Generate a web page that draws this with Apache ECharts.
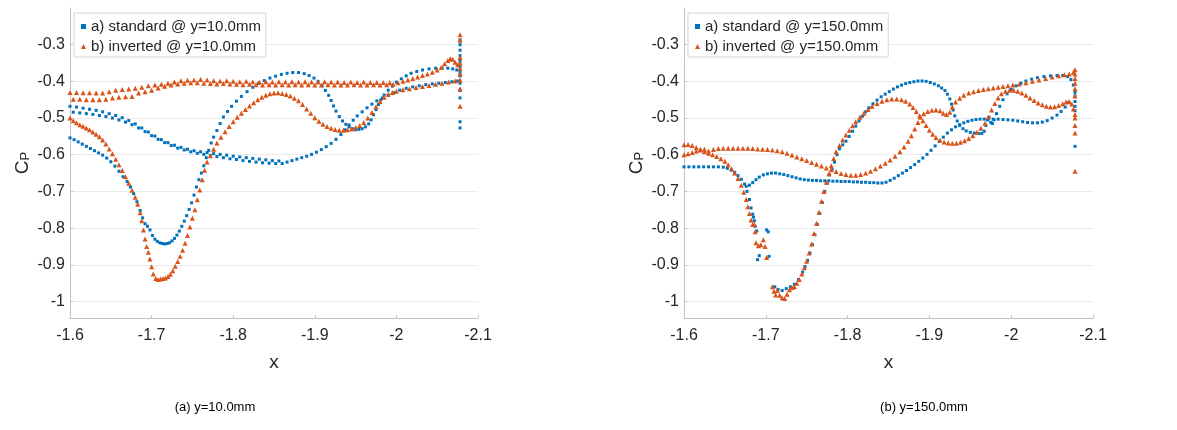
<!DOCTYPE html>
<html>
<head>
<meta charset="utf-8">
<script src="https://cdn.jsdelivr.net/npm/echarts@6/dist/echarts.min.js"></script>
<style>
html,body{margin:0;padding:0;background:#fff;}
#chart{width:1177px;height:430px;}
</style>
</head>
<body>
<div id="chart"></div>
<script>
// ---------- tick labels ----------
const Y_TICKS = [-1, -0.9, -0.8, -0.7, -0.6, -0.5, -0.4, -0.3];
const CAPTIONS = ['(a) y=10.0mm', '(b) y=150.0mm'];
const NAMES_A = ['a) standard @ y=10.0mm', 'b) inverted @ y=10.0mm'];
const NAMES_B = ['a) standard @ y=150.0mm', 'b) inverted @ y=150.0mm'];

// ---------- (a) y=10.0mm : standard ----------
const A_STD_DIP = [[-1.600,-0.554],[-1.605,-0.559],[-1.610,-0.565],[-1.615,-0.571],[-1.620,-0.577],[-1.625,-0.583],[-1.630,-0.589],[-1.635,-0.595],[-1.640,-0.601],[-1.645,-0.609],[-1.650,-0.619],[-1.655,-0.631],[-1.660,-0.645],[-1.665,-0.660],[-1.670,-0.673],[-1.674,-0.688],[-1.678,-0.706],[-1.682,-0.728],[-1.686,-0.752],[-1.689,-0.772],[-1.692,-0.788],[-1.695,-0.795],[-1.698,-0.805],[-1.701,-0.820],[-1.704,-0.830],[-1.707,-0.836],[-1.710,-0.840],[-1.713,-0.842],[-1.716,-0.843],[-1.719,-0.842],[-1.722,-0.840],[-1.725,-0.835],[-1.728,-0.828],[-1.731,-0.819],[-1.734,-0.808],[-1.737,-0.795],[-1.740,-0.781],[-1.743,-0.766],[-1.746,-0.749],[-1.749,-0.731],[-1.752,-0.710],[-1.755,-0.688],[-1.758,-0.668],[-1.761,-0.650],[-1.764,-0.630],[-1.767,-0.608],[-1.770,-0.588],[-1.773,-0.568],[-1.776,-0.552],[-1.780,-0.534],[-1.784,-0.515],[-1.788,-0.497],[-1.793,-0.482],[-1.798,-0.468],[-1.804,-0.454],[-1.810,-0.441],[-1.817,-0.428],[-1.824,-0.416],[-1.831,-0.406],[-1.838,-0.398],[-1.845,-0.391],[-1.852,-0.386],[-1.859,-0.381],[-1.866,-0.378],[-1.873,-0.376],[-1.880,-0.376],[-1.887,-0.379],[-1.893,-0.384],[-1.899,-0.391],[-1.904,-0.400],[-1.909,-0.412],[-1.913,-0.425],[-1.917,-0.438],[-1.920,-0.452],[-1.923,-0.467],[-1.926,-0.481],[-1.930,-0.496],[-1.934,-0.508],[-1.938,-0.517],[-1.942,-0.524],[-1.946,-0.529],[-1.950,-0.532],[-1.954,-0.531],[-1.958,-0.529],[-1.962,-0.524],[-1.966,-0.516],[-1.969,-0.505],[-1.972,-0.491],[-1.975,-0.477],[-1.978,-0.463],[-1.981,-0.450],[-1.985,-0.437],[-1.990,-0.424],[-1.995,-0.413],[-2.000,-0.402],[-2.006,-0.393],[-2.012,-0.385],[-2.018,-0.378],[-2.025,-0.373],[-2.032,-0.369],[-2.040,-0.366],[-2.048,-0.364],[-2.056,-0.364],[-2.063,-0.364],[-2.069,-0.366],[-2.074,-0.369],[-2.078,-0.376]];
const A_STD_LOW_1 = [[-1.600,-0.468],[-1.608,-0.470],[-1.616,-0.473],[-1.624,-0.476],[-1.632,-0.479],[-1.640,-0.483],[-1.648,-0.488],[-1.656,-0.493],[-1.664,-0.499],[-1.672,-0.507],[-1.680,-0.516],[-1.688,-0.527],[-1.696,-0.538],[-1.704,-0.549],[-1.712,-0.559],[-1.720,-0.567],[-1.728,-0.574],[-1.736,-0.580],[-1.744,-0.585],[-1.752,-0.589],[-1.760,-0.592],[-1.768,-0.594],[-1.776,-0.597],[-1.784,-0.599],[-1.792,-0.601],[-1.800,-0.604],[-1.808,-0.606],[-1.816,-0.608],[-1.824,-0.610],[-1.832,-0.612],[-1.840,-0.614],[-1.848,-0.616],[-1.856,-0.617]];
const A_STD_LOW_2 = [[-1.604,-0.484],[-1.612,-0.486],[-1.620,-0.488],[-1.628,-0.490],[-1.636,-0.493],[-1.644,-0.496],[-1.652,-0.500],[-1.660,-0.505],[-1.668,-0.511],[-1.676,-0.518],[-1.684,-0.527],[-1.692,-0.537],[-1.700,-0.548],[-1.708,-0.558],[-1.716,-0.567],[-1.724,-0.575],[-1.732,-0.582],[-1.740,-0.587],[-1.748,-0.592],[-1.756,-0.596],[-1.764,-0.599],[-1.772,-0.602],[-1.780,-0.605],[-1.788,-0.608],[-1.796,-0.611],[-1.804,-0.613],[-1.812,-0.616],[-1.820,-0.618],[-1.828,-0.620],[-1.836,-0.622],[-1.844,-0.623],[-1.852,-0.624],[-1.860,-0.624]];
const A_STD_LOW_3 = [[-1.866,-0.620],[-1.872,-0.616],[-1.878,-0.612],[-1.884,-0.608],[-1.890,-0.604],[-1.896,-0.599],[-1.902,-0.593],[-1.908,-0.586],[-1.914,-0.578],[-1.920,-0.569],[-1.926,-0.558],[-1.932,-0.545],[-1.937,-0.532],[-1.942,-0.519],[-1.947,-0.506],[-1.952,-0.494],[-1.958,-0.483],[-1.964,-0.472],[-1.970,-0.462],[-1.976,-0.453],[-1.983,-0.445],[-1.990,-0.438],[-1.997,-0.431],[-2.004,-0.424],[-2.012,-0.419],[-2.020,-0.415],[-2.028,-0.412],[-2.036,-0.409],[-2.044,-0.407],[-2.052,-0.405],[-2.060,-0.403],[-2.068,-0.401],[-2.075,-0.399]];
const A_STD_TE = [[-2.078,-0.287],[-2.078,-0.300],[-2.078,-0.315],[-2.078,-0.330],[-2.078,-0.345],[-2.078,-0.360],[-2.078,-0.385],[-2.078,-0.405],[-2.078,-0.425],[-2.078,-0.445],[-2.078,-0.510],[-2.078,-0.527]];

// ---------- (a) y=10.0mm : inverted ----------
const A_INV_DIP = [[-1.600,-0.500],[-1.604,-0.507],[-1.608,-0.513],[-1.612,-0.518],[-1.616,-0.522],[-1.620,-0.527],[-1.624,-0.532],[-1.628,-0.538],[-1.632,-0.544],[-1.636,-0.551],[-1.640,-0.560],[-1.644,-0.571],[-1.648,-0.584],[-1.652,-0.597],[-1.656,-0.612],[-1.660,-0.627],[-1.664,-0.643],[-1.668,-0.660],[-1.672,-0.678],[-1.676,-0.697],[-1.680,-0.716],[-1.683,-0.735],[-1.686,-0.758],[-1.688,-0.780],[-1.690,-0.805],[-1.692,-0.830],[-1.694,-0.850],[-1.696,-0.866],[-1.698,-0.884],[-1.700,-0.905],[-1.702,-0.925],[-1.705,-0.937],[-1.708,-0.940],[-1.711,-0.939],[-1.714,-0.937],[-1.717,-0.936],[-1.720,-0.932],[-1.723,-0.926],[-1.726,-0.916],[-1.729,-0.904],[-1.732,-0.891],[-1.735,-0.877],[-1.738,-0.860],[-1.741,-0.841],[-1.744,-0.820],[-1.747,-0.797],[-1.750,-0.773],[-1.753,-0.750],[-1.756,-0.723],[-1.759,-0.696],[-1.762,-0.668],[-1.765,-0.642],[-1.768,-0.620],[-1.772,-0.603],[-1.776,-0.585],[-1.780,-0.568],[-1.785,-0.552],[-1.790,-0.537],[-1.795,-0.523],[-1.800,-0.510],[-1.805,-0.498],[-1.810,-0.487],[-1.815,-0.477],[-1.820,-0.467],[-1.825,-0.458],[-1.830,-0.450],[-1.835,-0.443],[-1.840,-0.438],[-1.845,-0.434],[-1.850,-0.432],[-1.855,-0.431],[-1.860,-0.433],[-1.865,-0.436],[-1.870,-0.440],[-1.875,-0.446],[-1.880,-0.453],[-1.885,-0.463],[-1.890,-0.475],[-1.895,-0.487],[-1.900,-0.499],[-1.905,-0.509],[-1.910,-0.517],[-1.915,-0.523],[-1.920,-0.528],[-1.925,-0.531],[-1.930,-0.533],[-1.935,-0.533],[-1.940,-0.532],[-1.945,-0.530],[-1.950,-0.526],[-1.955,-0.520],[-1.960,-0.512],[-1.965,-0.500],[-1.970,-0.485],[-1.975,-0.469],[-1.980,-0.455],[-1.985,-0.443],[-1.990,-0.435],[-1.995,-0.430],[-2.000,-0.427],[-2.008,-0.423],[-2.016,-0.420],[-2.024,-0.417],[-2.032,-0.414],[-2.040,-0.411],[-2.048,-0.408],[-2.056,-0.405],[-2.064,-0.402],[-2.072,-0.399],[-2.078,-0.396]];
const A_INV_FLAT_1 = [[-1.600,-0.430],[-1.608,-0.430],[-1.616,-0.431],[-1.624,-0.431],[-1.632,-0.432],[-1.640,-0.432],[-1.648,-0.428],[-1.656,-0.424],[-1.664,-0.422],[-1.672,-0.421],[-1.680,-0.419],[-1.688,-0.416],[-1.696,-0.412],[-1.704,-0.410],[-1.712,-0.408],[-1.720,-0.405],[-1.728,-0.402],[-1.736,-0.398],[-1.744,-0.397],[-1.752,-0.396],[-1.760,-0.395],[-1.768,-0.396],[-1.776,-0.398],[-1.784,-0.399],[-1.792,-0.398],[-1.800,-0.400],[-1.808,-0.401],[-1.816,-0.400],[-1.824,-0.401],[-1.832,-0.402],[-1.840,-0.401],[-1.848,-0.402],[-1.856,-0.401],[-1.864,-0.402],[-1.872,-0.401],[-1.880,-0.402],[-1.888,-0.401],[-1.896,-0.402],[-1.904,-0.402],[-1.912,-0.401],[-1.920,-0.402],[-1.928,-0.402],[-1.936,-0.403],[-1.944,-0.402],[-1.952,-0.403],[-1.960,-0.402],[-1.968,-0.403],[-1.976,-0.403],[-1.984,-0.403],[-1.992,-0.404]];
const A_INV_FLAT_2 = [[-1.604,-0.449],[-1.612,-0.449],[-1.620,-0.450],[-1.628,-0.450],[-1.636,-0.450],[-1.644,-0.449],[-1.652,-0.445],[-1.660,-0.443],[-1.668,-0.442],[-1.676,-0.441],[-1.684,-0.432],[-1.692,-0.428],[-1.700,-0.424],[-1.708,-0.418],[-1.716,-0.413],[-1.724,-0.410],[-1.732,-0.407],[-1.740,-0.405],[-1.748,-0.404],[-1.756,-0.404],[-1.764,-0.405],[-1.772,-0.406],[-1.780,-0.407],[-1.788,-0.406],[-1.796,-0.407],[-1.804,-0.408],[-1.812,-0.409],[-1.820,-0.408],[-1.828,-0.409],[-1.836,-0.410],[-1.844,-0.409],[-1.852,-0.410],[-1.860,-0.409],[-1.868,-0.410],[-1.876,-0.409],[-1.884,-0.410],[-1.892,-0.409],[-1.900,-0.410],[-1.908,-0.410],[-1.916,-0.409],[-1.924,-0.410],[-1.932,-0.410],[-1.940,-0.410],[-1.948,-0.409],[-1.956,-0.410],[-1.964,-0.410],[-1.972,-0.409],[-1.980,-0.410],[-1.988,-0.409],[-1.996,-0.408]];
const A_INV_RISE = [[-2.002,-0.404],[-2.008,-0.400],[-2.014,-0.396],[-2.020,-0.392],[-2.026,-0.388],[-2.032,-0.384],[-2.038,-0.380],[-2.044,-0.375],[-2.050,-0.369],[-2.055,-0.362],[-2.059,-0.352],[-2.063,-0.343],[-2.066,-0.338],[-2.069,-0.340],[-2.072,-0.348],[-2.075,-0.355]];
const A_INV_TE = [[-2.078,-0.273],[-2.078,-0.288],[-2.078,-0.335],[-2.078,-0.350],[-2.078,-0.365],[-2.078,-0.380],[-2.078,-0.420],[-2.078,-0.468]];

// ---------- (b) y=150.0mm : standard ----------
const B_STD_DIP = [[-1.600,-0.633],[-1.606,-0.633],[-1.612,-0.633],[-1.618,-0.633],[-1.624,-0.633],[-1.630,-0.633],[-1.636,-0.633],[-1.642,-0.633],[-1.648,-0.634],[-1.653,-0.637],[-1.658,-0.642],[-1.662,-0.648],[-1.666,-0.657],[-1.670,-0.667],[-1.674,-0.680],[-1.677,-0.700],[-1.680,-0.722],[-1.682,-0.745],[-1.684,-0.762],[-1.685,-0.770],[-1.686,-0.780],[-1.687,-0.795],[-1.689,-0.808],[-1.690,-0.886],[-1.692,-0.875],[-1.701,-0.805],[-1.703,-0.810],[-1.704,-0.877],[-1.711,-0.960],[-1.715,-0.967],[-1.720,-0.970],[-1.725,-0.965],[-1.730,-0.960],[-1.735,-0.953],[-1.740,-0.940],[-1.745,-0.920],[-1.748,-0.905],[-1.751,-0.888],[-1.754,-0.868],[-1.757,-0.845],[-1.760,-0.818],[-1.763,-0.790],[-1.766,-0.760],[-1.769,-0.730],[-1.772,-0.700],[-1.775,-0.678],[-1.778,-0.655],[-1.781,-0.640],[-1.784,-0.620],[-1.787,-0.600],[-1.790,-0.584],[-1.794,-0.573],[-1.798,-0.563],[-1.802,-0.550],[-1.806,-0.536],[-1.810,-0.522],[-1.814,-0.508],[-1.818,-0.495],[-1.822,-0.483],[-1.826,-0.472],[-1.831,-0.461],[-1.836,-0.451],[-1.841,-0.442],[-1.846,-0.435],[-1.851,-0.428],[-1.856,-0.421],[-1.861,-0.415],[-1.866,-0.410],[-1.871,-0.406],[-1.876,-0.403],[-1.881,-0.401],[-1.886,-0.399],[-1.891,-0.399],[-1.896,-0.400],[-1.901,-0.403],[-1.906,-0.407],[-1.911,-0.412],[-1.915,-0.418],[-1.919,-0.425],[-1.922,-0.435],[-1.925,-0.448],[-1.927,-0.462],[-1.929,-0.478],[-1.931,-0.494],[-1.934,-0.508],[-1.937,-0.520],[-1.941,-0.529],[-1.945,-0.535],[-1.950,-0.539],[-1.955,-0.541],[-1.960,-0.542],[-1.964,-0.542],[-1.967,-0.536],[-1.969,-0.520],[-1.971,-0.505],[-1.973,-0.498],[-1.975,-0.512],[-1.977,-0.515],[-1.979,-0.505],[-1.982,-0.488],[-1.986,-0.468],[-1.990,-0.450],[-1.995,-0.434],[-2.000,-0.422],[-2.006,-0.412],[-2.012,-0.405],[-2.018,-0.399],[-2.025,-0.394],[-2.032,-0.390],[-2.040,-0.387],[-2.048,-0.385],[-2.056,-0.384],[-2.063,-0.384],[-2.069,-0.387],[-2.073,-0.395],[-2.076,-0.410],[-2.078,-0.430]];
const B_STD_LOW = [[-1.676,-0.686],[-1.680,-0.683],[-1.684,-0.676],[-1.688,-0.668],[-1.692,-0.661],[-1.697,-0.655],[-1.702,-0.652],[-1.707,-0.650],[-1.712,-0.650],[-1.717,-0.652],[-1.722,-0.654],[-1.727,-0.657],[-1.732,-0.660],[-1.737,-0.663],[-1.742,-0.666],[-1.747,-0.668],[-1.752,-0.669],[-1.757,-0.670],[-1.762,-0.670],[-1.767,-0.671],[-1.772,-0.671],[-1.777,-0.671],[-1.782,-0.672],[-1.787,-0.672],[-1.792,-0.673],[-1.797,-0.673],[-1.802,-0.673],[-1.807,-0.674],[-1.812,-0.674],[-1.817,-0.675],[-1.822,-0.675],[-1.827,-0.676],[-1.832,-0.676],[-1.837,-0.677],[-1.842,-0.677],[-1.847,-0.675],[-1.852,-0.670],[-1.857,-0.664],[-1.862,-0.657],[-1.867,-0.650],[-1.872,-0.643],[-1.877,-0.635],[-1.882,-0.627],[-1.887,-0.618],[-1.892,-0.609],[-1.897,-0.599],[-1.902,-0.588],[-1.907,-0.576],[-1.912,-0.564],[-1.917,-0.552],[-1.922,-0.541],[-1.927,-0.532],[-1.932,-0.524],[-1.937,-0.518],[-1.942,-0.513],[-1.947,-0.509],[-1.952,-0.506],[-1.957,-0.504],[-1.962,-0.503],[-1.967,-0.503],[-1.972,-0.503],[-1.978,-0.503],[-1.984,-0.503],[-1.990,-0.504],[-1.996,-0.505],[-2.002,-0.506],[-2.008,-0.508],[-2.014,-0.510],[-2.020,-0.512],[-2.026,-0.513],[-2.032,-0.513],[-2.038,-0.511],[-2.044,-0.507],[-2.050,-0.500],[-2.056,-0.492],[-2.061,-0.482],[-2.066,-0.470],[-2.070,-0.458]];
const B_STD_TE = [[-2.078,-0.440],[-2.078,-0.455],[-2.078,-0.468],[-2.078,-0.480],[-2.078,-0.577]];

// ---------- (b) y=150.0mm : inverted ----------
const B_INV_DIP = [[-1.600,-0.573],[-1.605,-0.572],[-1.610,-0.575],[-1.615,-0.580],[-1.620,-0.585],[-1.625,-0.592],[-1.630,-0.596],[-1.635,-0.600],[-1.640,-0.605],[-1.645,-0.611],[-1.650,-0.618],[-1.654,-0.627],[-1.658,-0.638],[-1.662,-0.650],[-1.666,-0.665],[-1.670,-0.683],[-1.673,-0.702],[-1.676,-0.722],[-1.678,-0.742],[-1.680,-0.760],[-1.682,-0.778],[-1.684,-0.790],[-1.686,-0.790],[-1.687,-0.810],[-1.688,-0.840],[-1.691,-0.848],[-1.694,-0.845],[-1.697,-0.832],[-1.699,-0.850],[-1.701,-0.880],[-1.708,-0.960],[-1.710,-0.972],[-1.712,-0.982],[-1.714,-0.970],[-1.717,-0.983],[-1.720,-0.990],[-1.723,-0.992],[-1.726,-0.980],[-1.729,-0.968],[-1.732,-0.962],[-1.735,-0.960],[-1.738,-0.950],[-1.741,-0.940],[-1.744,-0.925],[-1.747,-0.908],[-1.750,-0.890],[-1.753,-0.868],[-1.756,-0.843],[-1.759,-0.815],[-1.762,-0.787],[-1.765,-0.757],[-1.768,-0.727],[-1.771,-0.700],[-1.774,-0.675],[-1.777,-0.652],[-1.780,-0.630],[-1.783,-0.610],[-1.786,-0.592],[-1.790,-0.575],[-1.794,-0.560],[-1.798,-0.546],[-1.802,-0.533],[-1.806,-0.521],[-1.810,-0.510],[-1.815,-0.498],[-1.820,-0.487],[-1.825,-0.477],[-1.830,-0.468],[-1.836,-0.460],[-1.842,-0.454],[-1.848,-0.450],[-1.854,-0.448],[-1.860,-0.448],[-1.866,-0.450],[-1.871,-0.454],[-1.876,-0.462],[-1.880,-0.471],[-1.884,-0.482],[-1.888,-0.494],[-1.892,-0.507],[-1.896,-0.520],[-1.900,-0.533],[-1.904,-0.544],[-1.908,-0.553],[-1.913,-0.560],[-1.918,-0.565],[-1.923,-0.568],[-1.928,-0.569],[-1.933,-0.569],[-1.938,-0.566],[-1.943,-0.562],[-1.948,-0.556],[-1.953,-0.548],[-1.958,-0.539],[-1.963,-0.528],[-1.968,-0.514],[-1.972,-0.497],[-1.976,-0.478],[-1.980,-0.460],[-1.984,-0.445],[-1.988,-0.434],[-1.993,-0.427],[-1.998,-0.424],[-2.003,-0.424],[-2.008,-0.427],[-2.013,-0.432],[-2.018,-0.438],[-2.023,-0.445],[-2.028,-0.452],[-2.033,-0.459],[-2.038,-0.464],[-2.043,-0.468],[-2.048,-0.470],[-2.053,-0.469],[-2.058,-0.466],[-2.063,-0.461],[-2.067,-0.456],[-2.071,-0.455],[-2.074,-0.462],[-2.076,-0.475],[-2.078,-0.490]];
const B_INV_UP = [[-1.600,-0.600],[-1.605,-0.597],[-1.610,-0.594],[-1.615,-0.590],[-1.620,-0.587],[-1.625,-0.585],[-1.630,-0.590],[-1.636,-0.586],[-1.642,-0.583],[-1.648,-0.582],[-1.654,-0.582],[-1.660,-0.582],[-1.666,-0.582],[-1.672,-0.582],[-1.678,-0.582],[-1.684,-0.583],[-1.690,-0.584],[-1.696,-0.585],[-1.702,-0.586],[-1.708,-0.587],[-1.714,-0.589],[-1.720,-0.592],[-1.726,-0.596],[-1.732,-0.601],[-1.738,-0.606],[-1.744,-0.611],[-1.750,-0.616],[-1.756,-0.621],[-1.762,-0.626],[-1.768,-0.631],[-1.774,-0.636],[-1.780,-0.641],[-1.786,-0.646],[-1.792,-0.651],[-1.798,-0.654],[-1.804,-0.656],[-1.810,-0.656],[-1.816,-0.654],[-1.822,-0.650],[-1.828,-0.645],[-1.834,-0.638],[-1.840,-0.631],[-1.846,-0.623],[-1.852,-0.614],[-1.858,-0.604],[-1.864,-0.592],[-1.869,-0.579],[-1.874,-0.563],[-1.878,-0.548],[-1.882,-0.530],[-1.886,-0.512],[-1.889,-0.498],[-1.893,-0.488],[-1.898,-0.482],[-1.903,-0.479],[-1.908,-0.478],[-1.913,-0.480],[-1.917,-0.487],[-1.921,-0.490],[-1.925,-0.484],[-1.928,-0.470],[-1.932,-0.456],[-1.937,-0.446],[-1.942,-0.438],[-1.948,-0.432],[-1.954,-0.428],[-1.960,-0.425],[-1.966,-0.422],[-1.972,-0.420],[-1.978,-0.418],[-1.984,-0.416],[-1.990,-0.414],[-1.996,-0.412],[-2.002,-0.410],[-2.010,-0.407],[-2.018,-0.404],[-2.026,-0.400],[-2.034,-0.396],[-2.042,-0.392],[-2.050,-0.388],[-2.058,-0.385],[-2.065,-0.382],[-2.071,-0.380],[-2.076,-0.375]];
const B_INV_TE = [[-2.078,-0.368],[-2.078,-0.380],[-2.078,-0.392],[-2.078,-0.405],[-2.078,-0.420],[-2.078,-0.440],[-2.078,-0.500],[-2.078,-0.520],[-2.078,-0.541],[-2.078,-0.645]];

// ---------- styling ----------
const BLUE = '#0072BD';
const ORANGE = '#D95319';
const FONT = "'Liberation Sans', Arial, Helvetica, sans-serif";
const AXIS_COLOR = '#c2c2c2';
const TEXT_COLOR = '#262626';

function fmt(v) { return String(Math.round(v * 10) / 10); }

function xAxisCfg(gridIndex) {
  return {
    type: 'value', gridIndex, min: -2.1, max: -1.6, interval: 0.1, inverse: true,
    name: 'x', nameLocation: 'middle', nameGap: 35,
    nameTextStyle: { fontSize: 19, color: TEXT_COLOR, fontFamily: FONT },
    axisLine: { onZero: false, lineStyle: { color: AXIS_COLOR, width: 1 } },
    axisTick: { show: true, inside: true, length: 3, lineStyle: { color: AXIS_COLOR } },
    axisLabel: { fontSize: 16, color: TEXT_COLOR, fontFamily: FONT, margin: 10, formatter: fmt, showMinLabel: true, showMaxLabel: true },
    splitLine: { show: false }
  };
}
function yAxisCfg(gridIndex) {
  return {
    type: 'value', gridIndex, min: -1.045, max: -0.2,
    name: 'C{p|P}', nameLocation: 'middle', nameGap: 38, nameRotate: 90,
    nameTextStyle: {
      fontSize: 19, color: TEXT_COLOR, fontFamily: FONT,
      rich: { p: { fontSize: 13, color: TEXT_COLOR, fontFamily: FONT, verticalAlign: 'bottom', lineHeight: 14 } }
    },
    axisLine: { show: true, onZero: false, lineStyle: { color: AXIS_COLOR, width: 1 } },
    axisTick: { show: true, inside: true, length: 3, customValues: Y_TICKS, lineStyle: { color: AXIS_COLOR } },
    axisLabel: { fontSize: 16, color: TEXT_COLOR, fontFamily: FONT, margin: 5, customValues: Y_TICKS, formatter: fmt },
    splitLine: { show: true, lineStyle: { color: '#ebebeb', width: 1 } }
  };
}
function scatter(name, idx, data, color, symbol, size, z) {
  return {
    type: 'scatter', name, xAxisIndex: idx, yAxisIndex: idx, data,
    symbol, symbolSize: size, itemStyle: { color, opacity: 1 }, z,
    silent: true, animation: false
  };
}
function legendCfg(names, left) {
  return {
    orient: 'vertical', left, top: 13, padding: [6, 5, 3, 7], itemGap: 5,
    itemWidth: 5, itemHeight: 5,
    backgroundColor: '#ffffff', borderColor: '#d4d4d4', borderWidth: 1, borderRadius: 0,
    textStyle: { fontSize: 15, color: TEXT_COLOR, fontFamily: FONT },
    data: [{ name: names[0], icon: 'rect' }, { name: names[1], icon: 'triangle' }],
    selectedMode: false
  };
}

const chart = echarts.init(document.getElementById('chart'), null, { renderer: 'canvas' });
chart.setOption({
  backgroundColor: '#ffffff',
  animation: false,
  textStyle: { fontFamily: FONT },
  grid: [
    { left: 70, top: 8, width: 408, height: 310 },
    { left: 684, top: 8, width: 409, height: 310 }
  ],
  xAxis: [xAxisCfg(0), xAxisCfg(1)],
  yAxis: [yAxisCfg(0), yAxisCfg(1)],
  legend: [legendCfg(NAMES_A, 74), legendCfg(NAMES_B, 688)],
  series: [
    scatter(NAMES_A[0], 0, [].concat(A_STD_DIP, A_STD_LOW_1, A_STD_LOW_2, A_STD_LOW_3, A_STD_TE), BLUE, 'rect', 3, 2),
    scatter(NAMES_A[1], 0, [].concat(A_INV_DIP, A_INV_FLAT_1, A_INV_FLAT_2, A_INV_RISE, A_INV_TE), ORANGE, 'triangle', 5, 3),
    scatter(NAMES_B[0], 1, [].concat(B_STD_DIP, B_STD_LOW, B_STD_TE), BLUE, 'rect', 3, 2),
    scatter(NAMES_B[1], 1, [].concat(B_INV_DIP, B_INV_UP, B_INV_TE), ORANGE, 'triangle', 5, 3)
  ],
  graphic: [
    { type: 'text', x: 215, y: 407, style: { text: CAPTIONS[0], align: 'center', verticalAlign: 'middle', fontSize: 13, fontFamily: FONT, fill: '#000' } },
    { type: 'text', x: 924, y: 407, style: { text: CAPTIONS[1], align: 'center', verticalAlign: 'middle', fontSize: 13, fontFamily: FONT, fill: '#000' } }
  ]
});
</script>
</body>
</html>
